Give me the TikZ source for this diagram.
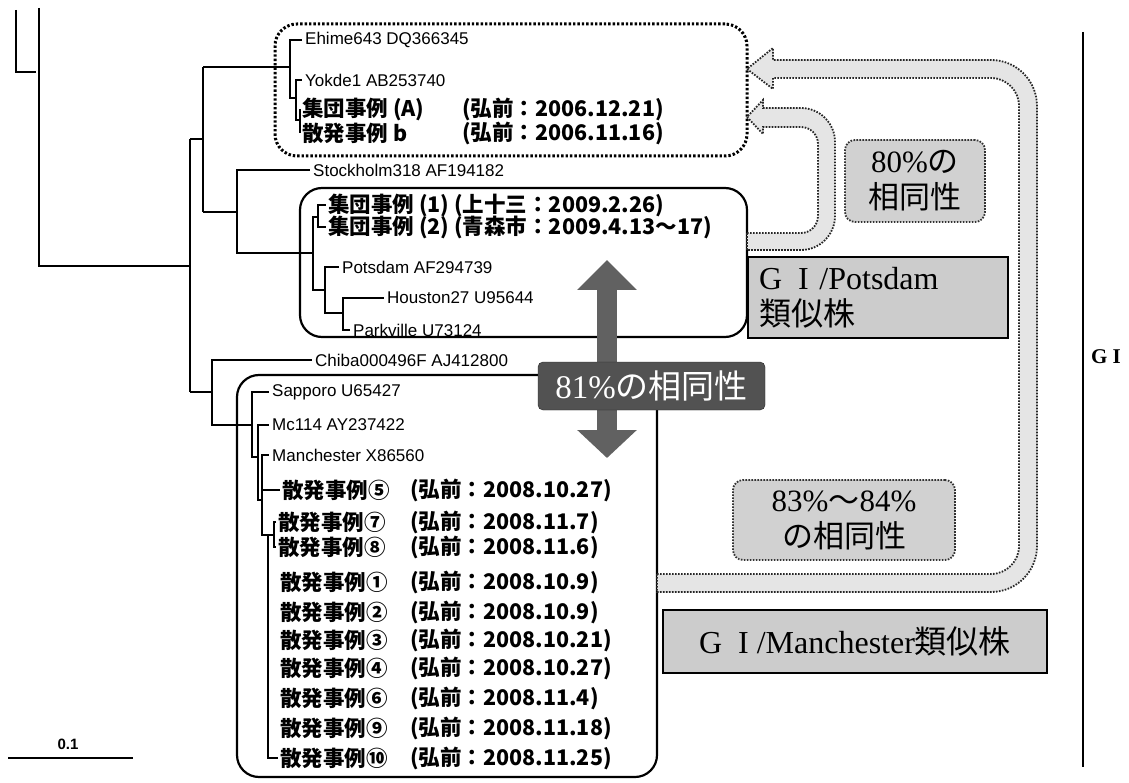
\documentclass[tikz,border=0pt]{standalone}
\usepackage{fontspec}
\setmainfont{Liberation Serif}
\newfontfamily\jpfont{Noto Sans CJK JP}
\newfontfamily\lblfont{Liberation Sans}
\usetikzlibrary{arrows.meta,positioning}
\tikzset{
  tlabel/.style={anchor=west, inner xsep=3pt, inner ysep=0pt,
                 font=\lblfont\fontsize{17}{17}\selectfont},
  jlabel/.style={anchor=west, inner xsep=2pt, inner ysep=0pt,
                 font=\jpfont\bfseries\fontsize{21.5}{21.5}\selectfont},
  branch/.style={line width=1.5pt},
  grpbox/.style={draw, line width=2.2pt, rounded corners=22pt, fill=white},
  dotbox/.style={draw, line width=3pt, dash pattern=on 2.4pt off 2pt,
                 rounded corners=22pt, fill=white},
  pctbox/.style={draw=black!80, line width=1.8pt, dash pattern=on 1.6pt off 1.4pt,
                 rounded corners=10pt, fill=black!18, align=center, inner sep=3pt,
                 font=\fontsize{31}{36}\selectfont},
  typebox/.style={draw, line width=1.8pt, fill=black!20, inner ysep=4pt,
                  font=\fontsize{32}{36}\selectfont},
  fatarrow/.style={draw=black!85, line width=1.8pt, dash pattern=on 1.6pt off 1.4pt,
                   fill=black!10},
  homarrow/.style={line width=20pt, draw=black!62,
                   arrows={Triangle[length=30pt,width=58pt]-Triangle[length=28pt,width=58pt]}},
  homlabel/.style={draw=black!85, fill=black!68, rounded corners=5pt, text=white,
                   inner sep=2pt, font=\fontsize{33}{33}\selectfont},
}

\begin{document}
\begin{tikzpicture}[x=1pt, y=-1pt]
  \fill[white] (0,0) rectangle (1129,783);
  \useasboundingbox (0,0) rectangle (1129,783);

  % Group frames
  \node[dotbox, minimum width=472pt, minimum height=132pt] (ehimeGrp) at (511,90) {};
  \node[grpbox, minimum width=447pt, minimum height=149pt] (potsGrp) at (523.5,262.5) {};
  \node[grpbox, minimum width=420pt, minimum height=402pt] (manGrp) at (447,576) {};

  % Upper clade labels
  \node[tlabel] (ehime) at (302,40) {Ehime643 DQ366345};
  \node[tlabel] (yokde) at (302,80) {Yokde1 AB253740};
  \node[jlabel] (caseA) at (300,109) {集団事例 (A)};
  \node[jlabel] (dateA) at (460,109) {(弘前：2006.12.21)};
  \node[jlabel] (caseB) at (300,133) {散発事例 b};
  \node[jlabel] (dateB) at (460,133) {(弘前：2006.11.16)};
  \node[tlabel] (stock) at (310,170) {Stockholm318 AF194182};
  \node[jlabel] (case1) at (326,205) {集団事例 (1) (上十三：2009.2.26)};
  \node[jlabel] (case2) at (326,227) {集団事例 (2) (青森市：2009.4.13～17)};
  \node[tlabel] (potsdam) at (339,267) {Potsdam AF294739};
  \node[tlabel] (houston) at (384,298) {Houston27 U95644};
  \node[tlabel] (parkville) at (350,330) {Parkville U73124};

  % Lower clade labels
  \node[tlabel] (chiba) at (312,360) {Chiba000496F AJ412800};
  \node[tlabel] (sapporo) at (269,392) {Sapporo U65427};
  \node[tlabel] (mc114) at (269,425) {Mc114 AY237422};
  \node[tlabel] (manch) at (269,455) {Manchester X86560};
  \node[jlabel] (s5) at (280,490) {散発事例⑤};
  \node[jlabel] (d5) at (408,490) {(弘前：2008.10.27)};
  \node[jlabel] (s7) at (276,522) {散発事例⑦};
  \node[jlabel] (d7) at (408,522) {(弘前：2008.11.7)};
  \node[jlabel] (s8) at (276,547) {散発事例⑧};
  \node[jlabel] (d8) at (408,547) {(弘前：2008.11.6)};
  \node[jlabel] (s1) at (278,582) {散発事例①};
  \node[jlabel] (d1) at (408,582) {(弘前：2008.10.9)};
  \node[jlabel] (s2) at (278,612) {散発事例②};
  \node[jlabel] (d2) at (408,612) {(弘前：2008.10.9)};
  \node[jlabel] (s3) at (278,640) {散発事例③};
  \node[jlabel] (d3) at (408,640) {(弘前：2008.10.21)};
  \node[jlabel] (s4) at (278,668) {散発事例④};
  \node[jlabel] (d4) at (408,668) {(弘前：2008.10.27)};
  \node[jlabel] (s6) at (278,698) {散発事例⑥};
  \node[jlabel] (d6) at (408,698) {(弘前：2008.11.4)};
  \node[jlabel] (s9) at (278,728) {散発事例⑨};
  \node[jlabel] (d9) at (408,728) {(弘前：2008.11.18)};
  \node[jlabel] (s10) at (278,758) {散発事例⑩};
  \node[jlabel] (d10) at (408,758) {(弘前：2008.11.25)};

  % Branch points
  \coordinate (fragT) at (16,10);
  \coordinate (fragB) at (36,72);
  \coordinate (top) at (39,8);
  \coordinate (root) at (39,266);
  \coordinate (nA) at (190,139);
  \coordinate (nB) at (190,392);
  \coordinate (nC) at (203,67);
  \coordinate (nD) at (203,212);
  \coordinate (eA) at (290,67);
  \coordinate (eB) at (296,98);
  \coordinate (eC) at (300,120);
  \coordinate (sA) at (237,212);
  \coordinate (pA) at (313,253);
  \coordinate (pB) at (318,217);
  \coordinate (pC) at (325,290);
  \coordinate (pD) at (343,313);
  \coordinate (cA) at (212,392);
  \coordinate (mA) at (252,425);
  \coordinate (mB) at (258,457);
  \coordinate (mC) at (262,500);
  \coordinate (mD) at (268,535);
  \coordinate (mE) at (274,535);

  % Tree
  \draw[branch] (fragT) |- (fragB);
  \draw[branch] (top) -- (root) -- (root -| nA);
  \draw[branch] (nA) -- (nB);
  \draw[branch] (nA) -- (nA -| nC);
  \draw[branch] (nC) -- (nD);
  \draw[branch] (nC) -- (eA);
  \draw[branch] (eA) |- (ehime.west);
  \draw[branch] (eA) |- (eB);
  \draw[branch] (eB) |- (yokde.west);
  \draw[branch] (eB) |- (eC);
  \draw[branch] (eC) |- (caseA.west);
  \draw[branch] (eC) |- (caseB.west);
  \draw[branch] (nD) -- (sA);
  \draw[branch] (sA) |- (stock.west);
  \draw[branch] (sA) |- (pA);
  \draw[branch] (pA) |- (pB);
  \draw[branch] (pB) |- (case1.west);
  \draw[branch] (pB) |- (case2.west);
  \draw[branch] (pA) |- (pC);
  \draw[branch] (pC) |- (potsdam.west);
  \draw[branch] (pC) |- (pD);
  \draw[branch] (pD) |- (houston.west);
  \draw[branch] (pD) |- (parkville.west);
  \draw[branch] (nB) -- (cA);
  \draw[branch] (cA) |- (chiba.west);
  \draw[branch] (cA) |- (mA);
  \draw[branch] (mA) |- (sapporo.west);
  \draw[branch] (mA) |- (mB);
  \draw[branch] (mB) |- (mc114.west);
  \draw[branch] (mB) |- (mC);
  \draw[branch] (mC) |- (manch.west);
  \draw[branch] (mC) |- (s5.west);
  \draw[branch] (mC) |- (mD);
  \draw[branch] (mD) |- (s10.west);
  \draw[branch] (mD) -- (mE);
  \draw[branch] (mE) |- (s7.west);
  \draw[branch] (mE) |- (s8.west);

  % Hollow dotted arrows into the Ehime frame
  \draw[fatarrow] (747,233) -- (801,233) arc[start angle=270, end angle=360, radius=17pt]
    -- (818,144) arc[start angle=0, end angle=90, radius=17pt]
    -- (763,127) -- (763,134) -- (747,117) -- (763,100) -- (763,108)
    -- (801,108) arc[start angle=90, end angle=0, radius=34pt]
    -- (835,216) arc[start angle=0, end angle=-90, radius=34pt]
    -- (747,250) -- cycle;
  \draw[fatarrow] (657,574) -- (991,574) arc[start angle=270, end angle=360, radius=28pt]
    -- (1019,106) arc[start angle=0, end angle=90, radius=28pt]
    -- (773,78) -- (773,89) -- (747,69) -- (773,48) -- (773,60)
    -- (991,60) arc[start angle=90, end angle=0, radius=46pt]
    -- (1037,546) arc[start angle=0, end angle=-90, radius=46pt]
    -- (657,592) -- cycle;

  % Homology labels
  \node[pctbox, minimum width=140pt, minimum height=82pt] (pct80) at (915,181)
    {80\%{\jpfont の}\\{\jpfont 相同性}};
  \node[pctbox, minimum width=222pt, minimum height=80pt] (pct83) at (844,520)
    {83\%{\jpfont ～}84\%\\{\jpfont の相同性}};

  % Genotype labels
  \node[typebox, minimum width=260pt, minimum height=81pt, text width=238pt,
        align=left] (potsType) at (878,297.5) {G\enspace I /Potsdam\\{\jpfont 類似株}};
  \node[typebox, minimum width=384pt, minimum height=63pt] (manType) at (855,641.5)
    {G\enspace I /Manchester{\jpfont 類似株}};

  % 81% double arrow
  \coordinate (hTop) at (607,260);
  \coordinate (hBot) at (607,458);
  \draw[homarrow] (hTop) -- (hBot);
  \node[homlabel, minimum width=227pt, minimum height=48pt] (hom81) at (651.5,386)
    {81\%{\jpfont の相同性}};

  % Genogroup bar
  \coordinate (giT) at (1083,32);
  \coordinate (giB) at (1083,767);
  \draw[line width=2.5pt] (giT) -- (giB);
  \node[font=\bfseries\fontsize{21}{21}\selectfont] (giLbl) at (1106,357) {G I};

  % Scale bar
  \coordinate (sclL) at (8,758);
  \coordinate (sclR) at (133,758);
  \draw[line width=1.3pt] (sclL) -- (sclR);
  \node[font=\lblfont\bfseries\fontsize{15}{15}\selectfont] (scl) at (68,744) {0.1};

\end{tikzpicture}
\end{document}
